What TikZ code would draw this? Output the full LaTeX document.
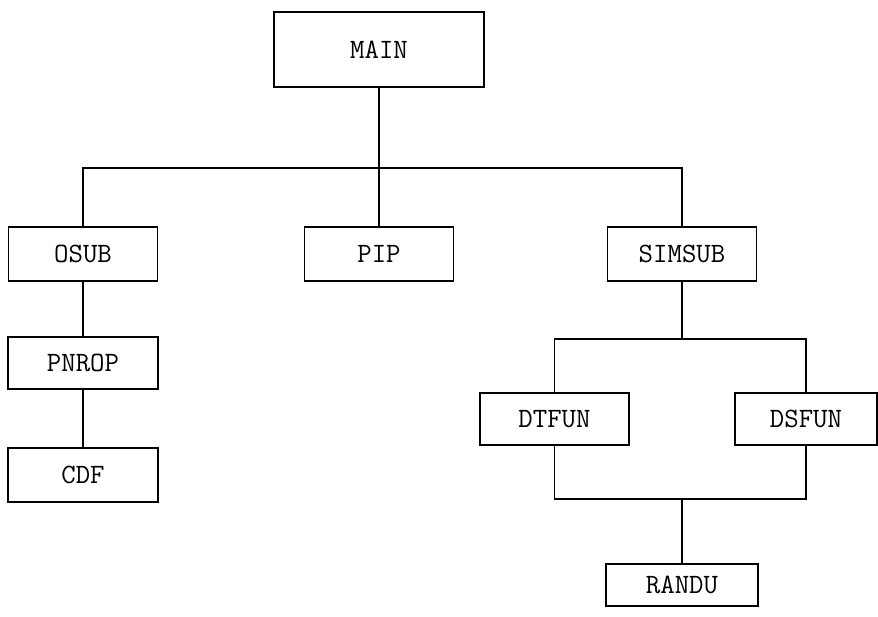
\documentclass[tikz,border=0pt]{standalone}
\usepackage{fontspec}
\usepackage{tikz}
\usetikzlibrary{positioning}

\begin{document}
\begin{tikzpicture}[
  x=0.5pt, y=-0.5pt,
  block/.style={rectangle, draw=black, line width=0.9pt, minimum width=74.5pt, minimum height=27pt, inner sep=0pt, align=center, font=\ttfamily\fontsize{14}{16}\selectfont},
  link/.style={draw=black, line width=0.9pt}
]
\useasboundingbox (0,0) rectangle (878,616);

% Top node
\node[block, minimum width=105pt, minimum height=37.5pt] (main) at (379,49.5) {MAIN};

% Second row nodes
\node[block] (osub) at (83,254) {OSUB};
\node[block] (pip) at (379,254) {PIP};
\node[block] (simsub) at (682,254) {SIMSUB};

% Left branch nodes
\node[block, minimum width=75pt, minimum height=26pt] (pnrop) at (83,363) {PNROP};
\node[block, minimum width=75pt] (cdf) at (83,475) {CDF};

% Right branch nodes
\node[block, minimum height=26pt] (dtfun) at (554.5,419) {DTFUN};
\node[block, minimum width=71pt, minimum height=26pt] (dsfun) at (806,419) {DSFUN};
\node[block, minimum width=76pt, minimum height=21pt] (randu) at (682,585) {RANDU};

% Junction points
\coordinate (mainjoin) at (379,168);
\coordinate (simjoin) at (682,339);
\coordinate (randujoin) at (682,499);

% Lines from MAIN
\draw[link] (main) -- (pip);
\draw[link] (osub) |- (mainjoin) -| (simsub);

% Lines down the left branch
\draw[link] (osub) -- (pnrop);
\draw[link] (pnrop) -- (cdf);

% Lines from SIMSUB
\draw[link] (simsub) -- (simjoin);
\draw[link] (dtfun) |- (simjoin) -| (dsfun);

% Lines to RANDU
\draw[link] (dtfun) |- (randujoin) -| (dsfun);
\draw[link] (randujoin) -- (randu);

\end{tikzpicture}
\end{document}
